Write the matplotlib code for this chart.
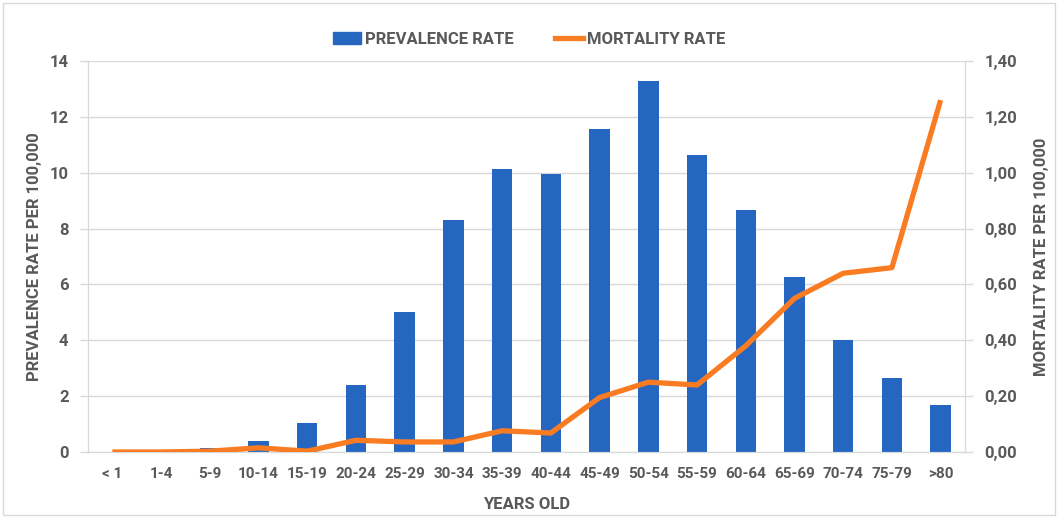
import matplotlib.pyplot as plt
import matplotlib.patches as mpatches
from matplotlib.ticker import FuncFormatter
import numpy as np

plt.rcParams['font.family'] = ['Roboto', 'DejaVu Sans']
plt.rcParams['font.weight'] = 'bold'

grupos = ['< 1', '1-4', '5-9', '10-14', '15-19', '20-24', '25-29', '30-34', '35-39',
          '40-44', '45-49', '50-54', '55-59', '60-64', '65-69', '70-74', '75-79', '>80']
prevalencia = [0.0, 0.0, 0.15, 0.4, 1.05, 2.4, 5.0, 8.3, 10.15,
               9.97, 11.57, 13.27, 10.65, 8.65, 6.27, 4.0, 2.65, 1.68]
mortalidad = [0.0, 0.0, 0.003, 0.015, 0.003, 0.042, 0.036, 0.036, 0.076,
              0.068, 0.195, 0.25, 0.24, 0.38, 0.55, 0.64, 0.66, 1.26]

AZUL = '#2567c0'
NARANJA = '#f97c22'
GRIS = '#595959'
LINEA = '#d9d9d9'

fig = plt.figure(figsize=(10.58, 5.18), dpi=100)
ax = fig.add_axes([88/1058, 1 - 452/518, (965-88)/1058, (452-61)/518])
ax2 = ax.twinx()

x = np.arange(len(grupos))
ax.bar(x, prevalencia, width=0.42, color=AZUL, zorder=2)
ax2.plot(x, mortalidad, color=NARANJA, linewidth=3.8, solid_capstyle='butt', zorder=3)

ax.set_xlim(-0.5, len(grupos) - 0.5)
ax.set_ylim(0, 14)
ax.set_yticks(range(0, 15, 2))
ax2.set_ylim(0, 1.4)
ax2.set_yticks(np.arange(0, 1.41, 0.2))
ax2.yaxis.set_major_formatter(FuncFormatter(lambda v, p: f'{v:.2f}'.replace('.', ',')))

ax.set_xticks(x)
ax.set_xticklabels(grupos)
ax.grid(axis='y', color=LINEA, linewidth=1, zorder=0)
ax.set_axisbelow(True)

for a in (ax, ax2):
    a.spines['top'].set_visible(False)
    for s in ('left', 'right', 'bottom'):
        a.spines[s].set_color(LINEA)
    a.tick_params(colors=GRIS, labelsize=12, length=6, width=1)
    a.tick_params(axis='x', length=0, pad=11)
    a.tick_params(axis='y', color=LINEA, pad=8)
    for t in a.get_yticklabels() + a.get_xticklabels():
        t.set_fontweight('bold')
ax.tick_params(axis='x', labelsize=11)

ax.set_xlabel('YEARS OLD', color=GRIS, fontsize=12, fontweight='bold', labelpad=11)
ax.set_ylabel('PREVALENCE RATE PER 100,000', color=GRIS, fontsize=12, fontweight='bold', labelpad=5)
ax2.set_ylabel('MORTALITY RATE PER 100,000', color=GRIS, fontsize=12, fontweight='bold', labelpad=12)

manejadores = [mpatches.Patch(color=AZUL, label='PREVALENCE RATE'),
               plt.Line2D([], [], color=NARANJA, linewidth=3.8, label='MORTALITY RATE')]
fig.legend(handles=manejadores, loc='center', bbox_to_anchor=(0.5, 1 - 39/518), ncol=2,
           frameon=False, labelcolor=GRIS, handlelength=1.7,
           handletextpad=0.2, columnspacing=2.5, prop={'weight': 'bold', 'size': 12})

fig.patches.append(mpatches.Rectangle((3/1058, 3/518), 1 - 6/1058, 1 - 6/518,
                                      transform=fig.transFigure, fill=False,
                                      edgecolor=LINEA, linewidth=1))

fig.savefig('out.png', dpi=100)
